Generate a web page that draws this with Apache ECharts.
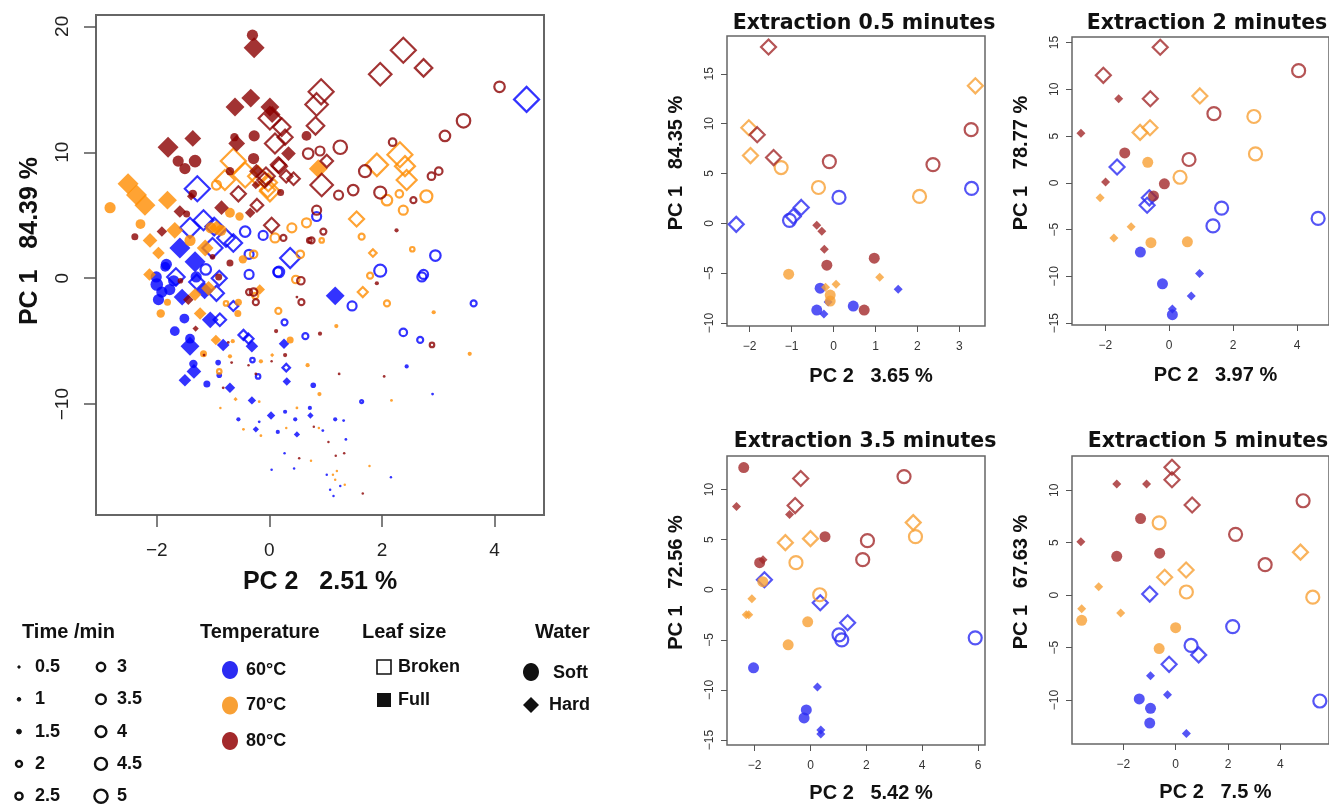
<!DOCTYPE html>
<html>
<head>
<meta charset="utf-8">
<script src="https://cdn.jsdelivr.net/npm/echarts@6/dist/echarts.min.js"></script>
<style>
  html, body { margin: 0; padding: 0; background: #fff; }
  #chart { width: 1329px; height: 805px; }
</style>
</head>
<body>
<div id="chart"></div>
<script>
(function () {
  "use strict";

  // ---------------- data ----------------
  var TEMPS = [60, 70, 80];
  var MAIN_COLORS = { 60: "#0000ff", 70: "#ff8c00", 80: "#8b0000" };
  var PANEL_COLORS = { 60: "#2b2bf2", 70: "#f8a035", 80: "#a3292b" };

  // all extraction times: [PC2, PC1, minutes, water (S soft / H hard), leaf (B broken / F full)]
  var main60 = [
    [4.57,14.2,5,"H","B"],[-1.28,7.1,5,"H","B"],[0.37,1.6,4,"H","B"],[-1.17,4.6,4,"H","B"],
    [-1.41,4.0,4,"H","B"],[-0.64,2.8,3.5,"H","B"],[-0.98,4.1,3.5,"H","B"],[-1.01,2.4,4,"H","B"],
    [-0.77,3.2,3.5,"H","B"],[-1.66,0.1,3.5,"H","B"],[-0.89,0.0,3,"H","B"],[-0.46,-4.5,2,"H","B"],
    [-0.37,-4.8,2,"H","B"],[-0.94,-1.2,3,"H","B"],[-0.88,-3.3,2.5,"H","B"],[-0.64,-2.2,2,"H","B"],
    [-1.29,-0.3,3,"H","B"],[0.30,-7.1,1.5,"H","B"],
    [2.95,1.8,3.5,"S","B"],[0.84,4.9,3,"S","B"],[-0.43,3.7,3.5,"S","B"],[-0.11,3.4,3,"S","B"],
    [-0.36,1.9,3,"S","B"],[-1.13,0.7,3.5,"S","B"],[0.15,0.5,3,"S","B"],[1.97,0.6,4,"S","B"],
    [0.17,0.5,3.5,"S","B"],[-0.36,0.3,3,"S","B"],[2.71,0.1,3,"S","B"],[2.74,0.3,3,"S","B"],
    [1.47,-2.2,3,"S","B"],[3.63,-2.0,2,"S","B"],[0.27,-3.5,2,"S","B"],[-0.30,-6.5,1.5,"S","B"],
    [-0.20,-7.8,1.5,"S","B"],[2.68,-4.9,2,"S","B"],[2.38,-4.3,2.5,"S","B"],[0.64,-4.6,2,"S","B"],
    [1.64,-9.8,1,"S","B"],
    [-1.83,1.1,4,"S","F"],[-2.01,0.1,4,"S","F"],[-1.30,0.1,4,"S","F"],[-2.00,-0.5,4.5,"S","F"],
    [-1.91,-1.1,4,"S","F"],[-1.77,-0.9,4,"S","F"],[-1.97,-1.7,4,"S","F"],[-1.85,0.9,3.5,"S","F"],
    [-1.70,-0.2,4,"S","F"],[-1.51,-3.2,3.5,"S","F"],[-1.68,-4.2,3.5,"S","F"],[-1.41,-4.8,3.5,"S","F"],
    [-1.35,-6.8,3,"S","F"],[-1.11,-8.4,2.5,"S","F"],[-0.91,-6.7,2,"S","F"],[-0.89,-7.7,2,"S","F"],
    [0.78,-8.5,2,"S","F"],[2.44,-7.0,1.5,"S","F"],[-0.55,-11.2,1.5,"S","F"],[0.28,-10.6,1.5,"S","F"],
    [0.46,-11.2,1.5,"S","F"],[0.15,-12.2,1.5,"S","F"],[0.72,-10.3,1.5,"S","F"],[1.17,-11.2,1.5,"S","F"],
    [1.32,-11.3,1,"S","F"],[-0.18,-11.4,1,"S","F"],[0.95,-12.1,1,"S","F"],[1.36,-12.8,1,"S","F"],
    [0.27,-13.9,0.5,"S","F"],[0.04,-15.2,0.5,"S","F"],[0.44,-15.1,0.5,"S","F"],[1.02,-15.6,0.5,"S","F"],
    [1.08,-16.8,0.5,"S","F"],[1.14,-17.3,0.5,"S","F"],[1.26,-16.5,0.5,"S","F"],[2.16,-15.8,0.5,"S","F"],
    [2.90,-9.2,1,"S","F"],
    [-1.59,2.4,5,"H","F"],[-1.32,1.3,5,"H","F"],[1.17,-1.4,4.5,"H","F"],[-1.41,-5.4,4.5,"H","F"],
    [-1.34,-7.4,3.5,"H","F"],[-1.50,-8.1,3,"H","F"],[-0.82,-5.3,3,"H","F"],[-0.31,-5.4,3,"H","F"],
    [0.26,-5.2,2.5,"H","F"],[0.31,-8.2,2,"H","F"],[-0.70,-8.7,2.5,"H","F"],[-0.31,-9.7,2,"H","F"],
    [0.03,-10.9,2,"H","F"],[0.73,-10.9,1.5,"H","F"],[-0.24,-12.0,1.5,"H","F"],[0.49,-12.4,1.5,"H","F"],
    [-1.05,-3.3,4,"H","F"],[-1.15,-1.0,4,"H","F"],[-1.55,-1.5,4,"H","F"]
  ];

  var main70 = [
    [-2.51,7.5,5,"H","F"],[-2.36,6.6,5,"H","F"],[-2.21,5.8,5,"H","F"],[-1.81,6.2,4.5,"H","F"],
    [0.87,8.7,4.5,"H","F"],[-2.12,3.0,3.5,"H","F"],[-1.97,2.0,3,"H","F"],[-1.68,3.8,4,"H","F"],
    [-1.14,2.4,4,"H","F"],[-0.94,4.0,3.5,"H","F"],[-2.13,0.3,3,"H","F"],[-1.32,-1.3,3,"H","F"],
    [-1.23,-2.8,3,"H","F"],[-1.08,-0.8,3.5,"H","F"],[-0.95,-4.9,2.5,"H","F"],[-0.17,-0.9,2.5,"H","F"],
    [0.05,-6.1,1,"H","F"],[-0.60,-9.6,1,"H","F"],
    [-2.83,5.6,4,"S","F"],[-2.29,4.3,3.5,"S","F"],[-1.41,3.0,4,"S","F"],[-1.04,4.0,4,"S","F"],
    [-0.86,3.8,4,"S","F"],[-0.70,5.2,3.5,"S","F"],[-0.53,4.9,3,"S","F"],[-0.47,1.5,3,"S","F"],
    [-1.93,-2.8,3,"S","F"],[-1.81,-1.9,2.5,"S","F"],[-0.55,-1.9,2.5,"S","F"],[-0.56,-2.8,2.5,"S","F"],
    [-1.17,-6.0,2.5,"S","F"],[-0.70,-6.2,1.5,"S","F"],[-0.65,-5.0,1.5,"S","F"],[-0.15,-6.6,1.5,"S","F"],
    [0.37,-4.9,2.5,"S","F"],[2.92,-2.7,1.5,"S","F"],[1.19,-3.8,1.5,"S","F"],[3.56,-6.0,1.5,"S","F"],
    [0.68,-6.9,1.5,"S","F"],[0.89,-9.2,1.5,"S","F"],[2.17,-9.7,1,"S","F"],[0.49,-10.3,1,"S","F"],
    [-0.87,-10.3,0.5,"S","F"],[-0.46,-12.0,1,"S","F"],[-0.15,-12.5,1,"S","F"],[-0.18,-9.8,1,"S","F"],
    [0.30,-11.9,0.5,"S","F"],[0.88,-11.9,0.5,"S","F"],[0.74,-14.5,0.5,"S","F"],[1.78,-14.9,0.5,"S","F"],
    [1.13,-15.6,0.5,"S","F"],[1.20,-15.3,0.5,"S","F"],[1.34,-16.4,0.5,"S","F"],[1.17,-16.0,0.5,"S","F"],
    [1.91,9.0,4.5,"H","B"],[2.32,9.8,5,"H","B"],[2.41,8.9,4,"H","B"],[2.44,7.8,4,"H","B"],
    [1.55,4.7,3,"H","B"],[1.84,2.0,1.5,"H","B"],[-0.64,9.3,5,"H","B"],[-0.43,8.2,5,"H","B"],
    [-0.79,7.8,4,"H","B"],[0.01,6.9,4,"H","B"],[-0.20,8.1,4,"H","B"],[-0.03,7.0,3,"H","B"],
    [1.66,-1.1,2,"H","B"],[-0.02,7.6,3.5,"H","B"],
    [2.79,6.5,4,"S","B"],[2.09,6.2,3.5,"S","B"],[2.31,6.7,2.5,"S","B"],[2.38,5.4,3,"S","B"],
    [1.64,3.3,2,"S","B"],[2.54,2.3,1.5,"S","B"],[0.40,4.0,3,"S","B"],[0.66,4.4,3,"S","B"],
    [0.10,3.2,3,"S","B"],[0.93,3.0,1.5,"S","B"],[-0.94,7.4,3,"S","B"],[-0.28,1.9,2.5,"S","B"],
    [0.55,1.9,2.5,"S","B"],[0.16,-2.6,2,"S","B"],[0.47,-0.1,2.5,"S","B"],[-0.25,-1.4,2,"S","B"],
    [1.79,0.2,2,"S","B"],[2.09,-2.0,2,"S","B"],[-0.77,-2.0,1.5,"S","B"],[-0.89,-7.4,1.5,"S","B"]
  ];

  var main80 = [
    [-0.30,19.3,4,"S","F"],[-0.62,11.2,3,"S","F"],[-0.27,11.3,4,"S","F"],[0.66,11.3,3.5,"S","F"],
    [-1.32,9.3,4.5,"S","F"],[-1.62,9.3,4,"S","F"],[-1.50,8.7,4,"S","F"],[-0.28,9.5,4,"S","F"],
    [-0.70,8.5,3,"S","F"],[0.20,6.8,2.5,"S","F"],[-1.36,6.7,3,"S","F"],[-1.47,5.1,2.5,"S","F"],
    [-2.39,3.3,2.5,"S","F"],[2.26,3.8,1.5,"S","F"],[-1.58,-0.2,2,"S","F"],[-0.90,0.1,2.5,"S","F"],
    [-0.70,1.2,2.5,"S","F"],[-1.01,1.7,2,"S","F"],[0.49,-1.5,1,"S","F"],[1.91,-0.4,1.5,"S","F"],
    [0.12,-4.2,1.5,"S","F"],[0.90,-4.4,1.5,"S","F"],[0.28,-6.1,1.5,"S","F"],[1.24,-7.6,1,"S","F"],
    [2.04,-7.8,1,"S","F"],[-0.67,-6.7,1,"S","F"],[-0.37,-6.9,0.5,"S","F"],[0.04,-6.6,0.5,"S","F"],
    [-0.82,-8.7,1,"S","F"],[-1.16,-6.1,1,"S","F"],[-0.73,-5.1,1,"S","F"],[0.79,-11.8,0.5,"S","F"],
    [1.05,-13.0,0.5,"S","F"],[0.53,-14.3,0.5,"S","F"],[1.18,-14.1,0.5,"S","F"],[1.33,-13.9,0.5,"S","F"],
    [1.66,-17.1,0.5,"S","F"],[-0.24,-7.6,1,"S","F"],
    [-0.27,18.3,5,"H","F"],[-0.61,13.6,4.5,"H","F"],[-0.33,14.3,4.5,"H","F"],[0.01,13.6,4.5,"H","F"],
    [0.05,13.0,4,"H","F"],[-1.80,10.4,5,"H","F"],[-1.36,11.1,4,"H","F"],[-0.58,10.7,4,"H","F"],
    [0.34,9.9,3.5,"H","F"],[-0.23,8.5,3.5,"H","F"],[-1.59,5.3,3,"H","F"],[-0.85,5.6,3.5,"H","F"],
    [-0.34,5.2,2.5,"H","F"],[-0.24,7.4,2,"H","F"],[-1.91,3.7,2.5,"H","F"],[-1.44,-1.7,2.5,"H","F"],
    [-1.31,-4.0,1.5,"H","F"],[-1.39,6.5,2,"H","F"],
    [2.38,18.1,5,"H","B"],[1.97,16.2,4.5,"H","B"],[2.74,16.7,3.5,"H","B"],[0.92,14.8,5,"H","B"],
    [0.84,13.8,4.5,"H","B"],[0.82,12.1,3.5,"H","B"],[0.01,12.7,4.5,"H","B"],[0.22,12.0,3.5,"H","B"],
    [0.28,11.2,3,"H","B"],[0.10,10.7,4,"H","B"],[0.16,9.0,3,"H","B"],[1.02,9.3,2.5,"H","B"],
    [0.93,7.4,4.5,"H","B"],[0.43,7.9,2.5,"H","B"],[-0.08,7.8,3,"H","B"],[-0.55,6.7,3,"H","B"],
    [-0.22,5.8,2.5,"H","B"],[0.04,4.2,3,"H","B"],[0.18,8.9,3,"H","B"],[0.30,8.1,2.5,"H","B"],
    [-0.06,8.1,3.5,"H","B"],
    [4.09,15.2,3.5,"S","B"],[3.45,12.5,4.5,"S","B"],[3.12,11.3,3.5,"S","B"],[2.19,10.8,2.5,"S","B"],
    [3.01,8.5,2.5,"S","B"],[2.88,8.1,2.5,"S","B"],[1.26,10.4,4.5,"S","B"],[0.90,10.1,3,"S","B"],
    [0.69,9.9,3.5,"S","B"],[1.70,8.5,4,"S","B"],[1.49,7.0,3.5,"S","B"],[1.23,6.6,3,"S","B"],
    [1.97,6.8,4,"S","B"],[2.56,6.2,2,"S","B"],[0.96,3.7,2,"S","B"],[0.75,3.0,2,"S","B"],
    [0.84,5.4,3,"S","B"],[0.25,3.2,2,"S","B"],[-0.36,-1.1,2,"S","B"],[-0.28,-1.1,2.5,"S","B"],
    [-0.24,-1.9,2,"S","B"],[0.56,-0.2,2.5,"S","B"],[0.57,-1.9,2,"S","B"],[2.89,-5.3,1.5,"S","B"],
    [0.71,3.0,1.5,"S","B"]
  ];

  // single extraction times: [PC2, PC1, temperature, water, leaf]
  var ext05 = [
    [-1.55,17.7,80,"H","B"],[-1.82,8.9,80,"H","B"],[-1.43,6.6,80,"H","B"],
    [-0.10,6.2,80,"S","B"],[3.28,9.4,80,"S","B"],[2.37,5.9,80,"S","B"],
    [-0.40,-0.2,80,"H","F"],[-0.28,-0.8,80,"H","F"],[-0.22,-2.6,80,"H","F"],
    [-0.16,-4.2,80,"S","F"],[0.97,-3.5,80,"S","F"],[0.73,-8.7,80,"S","F"],
    [3.38,13.8,70,"H","B"],[-2.02,9.6,70,"H","B"],[-1.98,6.8,70,"H","B"],
    [-1.25,5.6,70,"S","B"],[-0.36,3.6,70,"S","B"],[2.05,2.7,70,"S","B"],
    [-1.07,-5.1,70,"S","F"],[-0.08,-7.2,70,"S","F"],[-0.08,-7.8,70,"S","F"],
    [0.06,-6.1,70,"H","F"],[1.10,-5.4,70,"H","F"],[-0.19,-6.4,70,"H","F"],
    [-2.32,-0.1,60,"H","B"],[-0.96,0.7,60,"H","B"],[-0.77,1.6,60,"H","B"],
    [-1.05,0.3,60,"S","B"],[0.13,2.6,60,"S","B"],[3.29,3.5,60,"S","B"],
    [-0.32,-6.5,60,"S","F"],[-0.40,-8.7,60,"S","F"],[0.47,-8.3,60,"S","F"],
    [-0.23,-9.1,60,"H","F"],[1.54,-6.6,60,"H","F"],[-0.13,-7.9,60,"H","F"]
  ];
  var ext2 = [
    [-0.28,14.5,80,"H","B"],[-2.06,11.5,80,"H","B"],[-0.59,9.0,80,"H","B"],
    [-1.58,9.0,80,"H","F"],[-2.76,5.3,80,"H","F"],[-1.99,0.1,80,"H","F"],
    [4.05,12.0,80,"S","B"],[1.40,7.4,80,"S","B"],[0.62,2.5,80,"S","B"],
    [-1.39,3.2,80,"S","F"],[-0.15,-0.1,80,"S","F"],[-0.49,-1.4,80,"S","F"],
    [0.96,9.3,70,"H","B"],[-0.60,5.9,70,"H","B"],[-0.91,5.4,70,"H","B"],
    [2.65,7.1,70,"S","B"],[2.70,3.1,70,"S","B"],[0.34,0.6,70,"S","B"],
    [-0.67,2.2,70,"S","F"],[-0.57,-6.4,70,"S","F"],[0.57,-6.3,70,"S","F"],
    [-2.16,-1.6,70,"H","F"],[-1.19,-4.7,70,"H","F"],[-1.73,-5.9,70,"H","F"],
    [-1.63,1.7,60,"H","B"],[-0.62,-1.6,60,"H","B"],[-0.69,-2.4,60,"H","B"],
    [1.64,-2.7,60,"S","B"],[1.37,-4.6,60,"S","B"],[4.66,-3.8,60,"S","B"],
    [-0.90,-7.4,60,"S","F"],[-0.21,-10.8,60,"S","F"],[0.10,-14.1,60,"S","F"],
    [0.95,-9.7,60,"H","F"],[0.69,-12.1,60,"H","F"],[0.10,-13.5,60,"H","F"]
  ];
  var ext35 = [
    [-2.39,12.2,80,"S","F"],[-1.82,2.7,80,"S","F"],[0.52,5.3,80,"S","F"],
    [-2.65,8.3,80,"H","F"],[-0.75,7.5,80,"H","F"],[-1.70,3.0,80,"H","F"],
    [-0.35,11.1,80,"H","B"],[-0.55,8.4,80,"H","B"],
    [3.35,11.3,80,"S","B"],[2.04,4.9,80,"S","B"],[1.87,3.0,80,"S","B"],
    [3.68,6.7,70,"H","B"],[-0.90,4.7,70,"H","B"],[0.00,5.1,70,"H","B"],
    [3.76,5.3,70,"S","B"],[-0.52,2.7,70,"S","B"],[0.33,-0.5,70,"S","B"],
    [-1.71,0.8,70,"S","F"],[-0.10,-3.2,70,"S","F"],[-0.80,-5.5,70,"S","F"],
    [-2.10,-0.9,70,"H","F"],[-2.21,-2.5,70,"H","F"],[-2.30,-2.5,70,"H","F"],
    [-1.65,1.0,60,"H","B"],[0.35,-1.3,60,"H","B"],[1.33,-3.3,60,"H","B"],
    [1.02,-4.5,60,"S","B"],[1.12,-5.0,60,"S","B"],[5.90,-4.8,60,"S","B"],
    [-2.04,-7.8,60,"S","F"],[-0.15,-12.0,60,"S","F"],[-0.23,-12.8,60,"S","F"],
    [0.25,-9.7,60,"H","F"],[0.37,-14.0,60,"H","F"],[0.37,-14.4,60,"H","F"]
  ];
  var ext5 = [
    [-0.14,12.2,80,"H","B"],[-0.14,11.0,80,"H","B"],[0.63,8.6,80,"H","B"],
    [-2.25,10.6,80,"H","F"],[-1.11,10.6,80,"H","F"],[-3.62,5.1,80,"H","F"],
    [-1.34,7.3,80,"S","F"],[-2.25,3.7,80,"S","F"],[-0.61,4.0,80,"S","F"],
    [4.87,9.0,80,"S","B"],[2.29,5.8,80,"S","B"],[3.42,2.9,80,"S","B"],
    [4.77,4.1,70,"H","B"],[0.40,2.4,70,"H","B"],[-0.42,1.7,70,"H","B"],
    [-0.63,6.9,70,"S","B"],[0.41,0.3,70,"S","B"],[5.24,-0.2,70,"S","B"],
    [-2.94,0.8,70,"H","F"],[-3.59,-1.3,70,"H","F"],[-2.10,-1.7,70,"H","F"],
    [-3.59,-2.4,70,"S","F"],[0.00,-3.1,70,"S","F"],[-0.63,-5.1,70,"S","F"],
    [-0.99,0.1,60,"H","B"],[-0.25,-6.6,60,"H","B"],[0.88,-5.7,60,"H","B"],
    [0.59,-4.8,60,"S","B"],[2.18,-3.0,60,"S","B"],[5.51,-10.1,60,"S","B"],
    [-0.96,-7.7,60,"H","F"],[-0.31,-9.5,60,"H","F"],[0.41,-13.2,60,"H","F"],
    [-1.39,-9.9,60,"S","F"],[-0.96,-10.8,60,"S","F"],[-0.99,-12.2,60,"S","F"]
  ];

  var panelTitles = ["Extraction 0.5 minutes", "Extraction 2 minutes", "Extraction 3.5 minutes", "Extraction 5 minutes"];
  var xNames = ["PC 2   2.51 %", "PC 2   3.65 %", "PC 2   3.97 %", "PC 2   5.42 %", "PC 2   7.5 %"];
  var yNames = ["PC 1   84.39 %", "PC 1   84.35 %", "PC 1   78.77 %", "PC 1   72.56 %", "PC 1   67.63 %"];
  var xTicks = [[-2, 0, 2, 4], [-2, -1, 0, 1, 2, 3], [-2, 0, 2, 4], [-2, 0, 2, 4, 6], [-2, 0, 2, 4]];
  var yTicks = [[-10, 0, 10, 20], [-10, -5, 0, 5, 10, 15], [-15, -10, -5, 0, 5, 10, 15], [-15, -10, -5, 0, 5, 10], [-10, -5, 0, 5, 10]];
  var xRange = [[-3.08, 4.88], [-2.54, 3.61], [-3.04, 5.0], [-2.99, 6.25], [-3.96, 5.86]];
  var yRange = [[-18.8, 20.9], [-10.3, 18.8], [-15.2, 15.6], [-15.5, 13.35], [-14.2, 13.27]];

  var legendTimes = [0.5, 1, 1.5, 2, 2.5, 3, 3.5, 4, 4.5, 5];
  var legendTemps = ["60°C", "70°C", "80°C"];
  var legendLeaf = ["Broken", "Full"];
  var legendWater = ["Soft", "Hard"];

  // ---------------- helpers ----------------
  var SHAPES = [
    { water: "S", leaf: "B", symbol: "circle", open: true, perMin: 3.0, fixed: 13 },
    { water: "S", leaf: "F", symbol: "circle", open: false, perMin: 2.8, fixed: 11 },
    { water: "H", leaf: "B", symbol: "diamond", open: true, perMin: 5.0, fixed: 15 },
    { water: "H", leaf: "F", symbol: "diamond", open: false, perMin: 4.2, fixed: 9 }
  ];
  var FONT = "'Liberation Sans', Arial, sans-serif";
  function minus(v) { return v < 0 ? "\u2212" + Math.abs(v) : String(v); }
  function markStyle(shape, color, bw) {
    return shape.open
      ? { color: "rgba(0,0,0,0)", borderColor: color, borderWidth: bw }
      : { color: color, borderWidth: 0 };
  }

  // ---------------- layout ----------------
  var grids = [
    { left: 96, top: 15, width: 448, height: 500, borderWidth: 2 },
    { left: 727, top: 36, width: 258, height: 290, borderWidth: 1.5 },
    { left: 1072, top: 37, width: 259, height: 288, borderWidth: 1.5 },
    { left: 727, top: 456, width: 258, height: 289, borderWidth: 1.5 },
    { left: 1072, top: 456, width: 258, height: 288, borderWidth: 1.5 }
  ].map(function (g) {
    return { left: g.left, top: g.top, width: g.width, height: g.height, show: true,
      borderColor: "#666", borderWidth: g.borderWidth, backgroundColor: "transparent", containLabel: false };
  });

  var xAxes = [], yAxes = [];
  for (var i = 0; i < 5; i++) {
    var big = i === 0;
    xAxes.push({
      type: "value", gridIndex: i, min: xRange[i][0], max: xRange[i][1], position: "bottom",
      splitLine: { show: false }, axisLine: { show: false, onZero: false },
      axisTick: { show: true, inside: false, length: big ? 12 : 6, customValues: xTicks[i],
        lineStyle: { color: "#555", width: big ? 1.5 : 1 } },
      axisLabel: { customValues: xTicks[i], formatter: minus, margin: big ? 26 : 15,
        fontSize: big ? 19 : 12, color: big ? "#222" : "#333", fontFamily: FONT },
      name: xNames[i], nameLocation: "middle", nameGap: big ? 55 : (i < 3 ? 40 : 38),
      nameTextStyle: { fontSize: big ? 25 : 20, fontWeight: "bold", color: "#111", fontFamily: FONT,
        padding: big ? 0 : [0, 0, 0, 30] }
    });
    yAxes.push({
      type: "value", gridIndex: i, min: yRange[i][0], max: yRange[i][1], position: "left",
      splitLine: { show: false }, axisLine: { show: false, onZero: false },
      axisTick: { show: true, inside: false, length: big ? 12 : 6, customValues: yTicks[i],
        lineStyle: { color: "#555", width: big ? 1.5 : 1 } },
      axisLabel: { customValues: yTicks[i], formatter: minus, rotate: 90, margin: big ? 24 : 11,
        fontSize: big ? 19 : 12, color: big ? "#222" : "#333", fontFamily: FONT },
      name: yNames[i], nameLocation: "middle", nameGap: big ? 53 : 41,
      nameTextStyle: { fontSize: big ? 25 : 20, fontWeight: "bold", color: "#111", fontFamily: FONT,
        padding: big ? [0, 0, 0, 48] : [0, 0, 0, 36] }
    });
  }

  // ---------------- series ----------------
  var series = [];
  var mainByTemp = { 60: main60, 70: main70, 80: main80 };
  TEMPS.forEach(function (t) {
    SHAPES.forEach(function (s) {
      var pts = mainByTemp[t].filter(function (r) { return r[3] === s.water && r[4] === s.leaf; })
        .map(function (r) { return [r[0], r[1], r[2]]; });
      series.push({
        type: "scatter", xAxisIndex: 0, yAxisIndex: 0, symbol: s.symbol, data: pts,
        symbolSize: function (v) { return Math.max(2.5, s.perMin * v[2]); },
        itemStyle: markStyle(s, MAIN_COLORS[t], 2.2), silent: true
      });
    });
  });

  [ext05, ext2, ext35, ext5].forEach(function (tbl, k) {
    TEMPS.forEach(function (t) {
      SHAPES.forEach(function (s) {
        var pts = tbl.filter(function (r) { return r[2] === t && r[3] === s.water && r[4] === s.leaf; })
          .map(function (r) { return [r[0], r[1]]; });
        series.push({
          type: "scatter", xAxisIndex: k + 1, yAxisIndex: k + 1, symbol: s.symbol, data: pts,
          symbolSize: s.fixed, itemStyle: markStyle(s, PANEL_COLORS[t], 2.2), silent: true
        });
      });
    });
  });

  // ---------------- panel titles ----------------
  var titleCenters = [[859, 8], [1202, 8], [860, 426], [1203, 426]];
  var titles = panelTitles.map(function (txt, k) {
    return { text: txt, left: titleCenters[k][0], top: titleCenters[k][1], textAlign: "center",
      textStyle: { fontSize: 20.5, fontWeight: "bold", color: "#111", fontFamily: "'DejaVu Sans', Verdana, sans-serif" } };
  });

  // ---------------- legend (drawn) ----------------
  var g = [];
  function label(txt, x, y, size) {
    g.push({ type: "text", x: x, y: y, silent: true,
      style: { text: txt, fill: "#111", font: "bold " + size + "px " + FONT, verticalAlign: "middle", align: "left" } });
  }
  label("Time /min", 22, 632, 20);
  label("Temperature", 200, 632, 20);
  label("Leaf size", 362, 632, 20);
  label("Water", 535, 632, 20);

  legendTimes.forEach(function (tm, idx) {
    var col = idx < 5 ? 0 : 1, row = idx % 5;
    var cx = col ? 101 : 19, cy = 667 + row * 32.3;
    var r = 0.6 + 1.2 * tm;
    g.push({ type: "circle", silent: true, shape: { cx: cx, cy: cy, r: r },
      style: tm <= 1.5 ? { fill: "#111", stroke: "#111", lineWidth: 1 } : { fill: "none", stroke: "#111", lineWidth: 2.4 } });
    label(String(tm), cx + 16, cy, 18);
  });

  legendTemps.forEach(function (txt, idx) {
    var cy = 670 + idx * 35.5;
    g.push({ type: "ellipse", silent: true, shape: { cx: 230, cy: cy, rx: 8, ry: 9 },
      style: { fill: PANEL_COLORS[TEMPS[idx]] } });
    label(txt, 246, cy, 18);
  });

  g.push({ type: "rect", silent: true, shape: { x: 377, y: 660, width: 14, height: 14 },
    style: { fill: "#fff", stroke: "#111", lineWidth: 1.6 } });
  label(legendLeaf[0], 398, 667, 18);
  g.push({ type: "rect", silent: true, shape: { x: 377, y: 693, width: 14, height: 14 },
    style: { fill: "#111" } });
  label(legendLeaf[1], 398, 700, 18);

  g.push({ type: "ellipse", silent: true, shape: { cx: 531, cy: 672, rx: 8, ry: 9 }, style: { fill: "#111" } });
  label(legendWater[0], 553, 673, 18);
  g.push({ type: "polygon", silent: true, shape: { points: [[531, 697], [539, 705], [531, 713], [523, 705]] },
    style: { fill: "#111" } });
  label(legendWater[1], 549, 705, 18);

  // ---------------- init ----------------
  var chart = echarts.init(document.getElementById("chart"), null, { renderer: "canvas" });
  chart.setOption({
    animation: false,
    backgroundColor: "#fff",
    title: titles,
    grid: grids,
    xAxis: xAxes,
    yAxis: yAxes,
    series: series,
    graphic: { elements: g }
  });
})();
</script>
</body>
</html>
